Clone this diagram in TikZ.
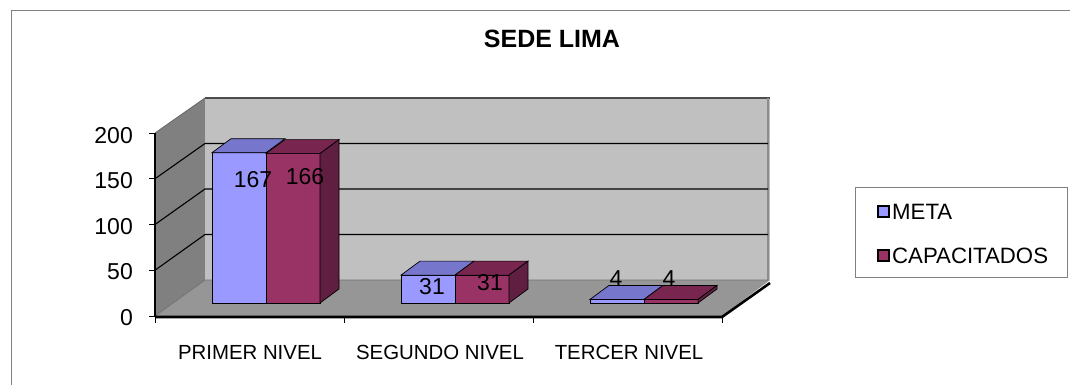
\documentclass[tikz,border=0pt]{standalone}
\usepackage{fontspec}
\setmainfont{Liberation Sans}
\usepackage{xcolor}
\usepackage{tikz}
\definecolor{metaFront}{RGB}{153, 153, 255}
\definecolor{metaTop}{RGB}{118, 118, 204}
\definecolor{capFront}{RGB}{153, 51, 102}
\definecolor{capTop}{RGB}{120, 38, 80}
\definecolor{capSide}{RGB}{96, 30, 64}
\definecolor{wallBack}{RGB}{192, 192, 192}
\definecolor{wallLeft}{RGB}{128, 128, 128}
\definecolor{floorGray}{RGB}{150, 150, 150}
\definecolor{frameGray}{RGB}{128, 128, 128}

\begin{document}
\begin{tikzpicture}[
    x=1pt, y=-1pt,
    grid/.style={draw=black, line width=1.1pt},
    barline/.style={draw=black, line width=0.7pt},
    axislabel/.style={anchor=east, inner sep=0, font=\fontsize{23}{26}\selectfont},
    catlabel/.style={inner sep=0, font=\fontsize{20.4}{24}\selectfont},
    datalabel/.style={inner sep=0, font=\fontsize{23}{26}\selectfont},
    legendtext/.style={anchor=west, inner sep=0, font=\fontsize{22.2}{25}\selectfont}
]
\useasboundingbox (0,0) rectangle (1070,385);
% chart frame
\draw[frameGray, line width=1pt] (1070,11) -- (11,11) -- (11,385);

% title
\node[font=\fontsize{25}{28}\selectfont\bfseries] (title) at (552,39) {SEDE LIMA};

% walls and floor
\fill[wallLeft] (155,133) -- (205,98) -- (205,280) -- (155,316) -- cycle;
\fill[wallBack] (205,98) rectangle (770,280);
\fill[floorGray] (155,316) -- (205,280) -- (770,280) -- (722,316) -- cycle;
\draw[black!70, line width=1.5pt] (205,98) -- (770,98);
\draw[black!45, line width=1.5pt] (768,98) -- (768,280);
\draw[black!60, line width=0.8pt] (155,133) -- (205,98);
\foreach \v in {50,100,150} {
    \draw[grid] (155,316-0.915*\v) -- (205,280-0.91*\v) -- (768,280-0.91*\v);
}
\draw[black!55, line width=0.8pt] (155,316) -- (205,280) -- (768,280);
\draw[black, line width=2.6pt] (155,317) -- (722,317) -- (770,283);

% axes
\draw[black, line width=1.6pt] (155,133) -- (155,317);
\foreach \v in {0,50,100,150,200} {
    \draw[black, line width=0.8pt] (149,316-0.915*\v) -- (155,316-0.915*\v);
}
\foreach \x in {155,344,533,722} {
    \draw[black, line width=0.8pt] (\x,317) -- (\x,323);
}
\node[axislabel] (y200) at (133,136) {200};
\node[axislabel] (y150) at (133,181) {150};
\node[axislabel] (y100) at (133,227) {100};
\node[axislabel] (y50) at (133,272) {50};
\node[axislabel] (y0) at (133,318) {0};

% bars
\foreach \i/\m/\c in {0/167/166, 1/31/31, 2/4/4} {
    \pgfmathsetmacro\xa{212+189*\i}
    \pgfmathsetmacro\xb{\xa+54}
    \pgfmathsetmacro\xc{\xa+108}
    \pgfmathsetmacro\ym{303-0.9*\m}
    \pgfmathsetmacro\yc{303-0.9*\c}
    \filldraw[barline, fill=metaFront] (\xa,303) rectangle (\xb,\ym);
    \filldraw[barline, fill=metaTop] (\xa,\ym) -- (\xa+19,\ym-14) -- (\xb+19,\ym-14) -- (\xb,\ym) -- cycle;
    \filldraw[barline, fill=capFront] (\xb,303) rectangle (\xc,\yc);
    \filldraw[barline, fill=capTop] (\xb,\yc) -- (\xb+19,\yc-14) -- (\xc+19,\yc-14) -- (\xc,\yc) -- cycle;
    \filldraw[barline, fill=capSide] (\xc,303) -- (\xc,\yc) -- (\xc+19,\yc-14) -- (\xc+19,289) -- cycle;
}

% data labels
\node[datalabel] (m1) at (253,180) {167};
\node[datalabel] (c1) at (305,177) {166};
\node[datalabel] (m2) at (432,287) {31};
\node[datalabel] (c2) at (490,283) {31};
\node[datalabel] (m3) at (616,279) {4};
\node[datalabel] (c3) at (669,279) {4};

% categories
\node[catlabel] (cat1) at (250,352) {PRIMER NIVEL};
\node[catlabel] (cat2) at (440,352) {SEGUNDO NIVEL};
\node[catlabel] (cat3) at (629,352) {TERCER NIVEL};

% legend
\draw[frameGray, line width=0.9pt, fill=white] (855,187) rectangle (1067,277);
\filldraw[draw=black, line width=1.2pt, fill=metaFront] (878,206) rectangle (889,217);
\node[legendtext] (legMeta) at (892,212) {META};
\filldraw[draw=black, line width=1.2pt, fill=capFront] (878,250) rectangle (889,261);
\node[legendtext] (legCap) at (892,256) {CAPACITADOS};
\end{tikzpicture}
\end{document}
